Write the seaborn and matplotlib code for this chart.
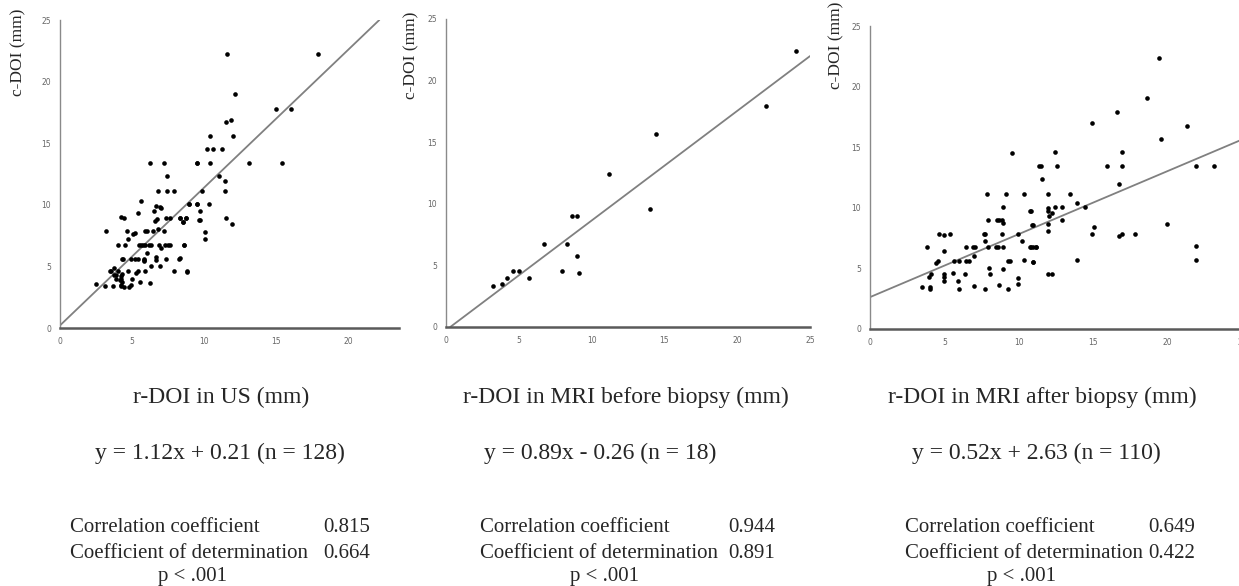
import matplotlib
matplotlib.use("Agg")
import matplotlib.pyplot as plt
import seaborn as sns

# ---- data ----
# panel 1: r-DOI in US vs c-DOI
us_x = [6.23, 7.2, 9.5, 7.39, 6.81, 7.39, 7.9, 5.63, 8.91, 9.51, 6.63, 6.93, 7.02, 6.51, 5.4,
        4.2, 4.43, 6.7, 6.6, 7.32, 7.64, 8.31, 8.7, 8.5, 9.65, 6.79, 3.21, 4.62, 5.91, 6.05,
        6.42, 7.2, 4.73, 5.08, 5.17, 4.0, 4.5, 5.49, 5.59, 5.77, 5.91, 6.2, 6.3, 6.88, 7.29,
        7.48, 7.66, 8.61, 7.02, 6.02, 4.29, 4.39, 4.94, 5.19, 5.4, 5.8, 5.84, 5.82, 6.65, 6.65,
        7.32, 8.22, 6.32, 3.72, 3.44, 3.55, 4.04, 4.69, 5.4, 5.91, 7.92, 8.8, 3.76, 3.85, 4.21,
        4.32, 4.21, 3.88, 5.01, 4.19, 4.32, 5.52, 6.21, 2.47, 3.12, 3.65, 4.2, 4.45, 4.8, 4.22,
        11.61, 17.89, 12.1, 15.0, 16.0, 11.54, 11.82, 10.41, 12.0, 10.2, 10.62, 11.22, 9.51, 10.41,
        13.09, 15.4, 11.01, 11.43, 11.43, 9.81, 8.91, 9.51, 10.32, 9.72, 8.31, 8.54, 8.73, 9.72,
        11.52, 11.91, 10.02, 10.02, 8.61, 8.82, 8.31, 5.3, 6.9, 4.9]
us_y = [13.37, 13.37, 13.37, 12.34, 11.12, 11.12, 11.12, 10.33, 10.04, 10.04, 9.9, 9.8, 9.7, 9.52, 9.33,
        9.03, 8.93, 8.82, 8.68, 8.96, 8.96, 8.96, 8.96, 8.63, 8.76, 8.06, 7.85, 7.85, 7.85, 7.85,
        7.85, 7.85, 7.22, 7.6, 7.7, 6.71, 6.71, 6.71, 6.71, 6.71, 6.71, 6.71, 6.71, 6.71, 6.71,
        6.71, 6.71, 6.71, 6.47, 6.09, 5.63, 5.63, 5.63, 5.63, 5.63, 5.63, 5.5, 5.42, 5.74, 5.5,
        5.63, 5.63, 5.06, 4.9, 4.63, 4.63, 4.63, 4.6, 4.6, 4.6, 4.6, 4.6, 4.3, 4.3, 4.24,
        4.4, 4.0, 3.95, 3.95, 3.9, 3.76, 3.71, 3.65, 3.54, 3.41, 3.41, 3.41, 3.36, 3.36, 3.5,
        22.27, 22.27, 18.97, 17.8, 17.8, 16.7, 16.88, 15.61, 15.61, 14.5, 14.5, 14.5, 13.39, 13.39,
        13.39, 13.39, 12.34, 11.9, 11.12, 11.12, 10.04, 10.04, 10.04, 9.52, 8.93, 8.63, 8.93, 8.74,
        8.93, 8.44, 7.82, 7.22, 6.71, 4.55, 5.68, 4.45, 5.0, 3.5]

# panel 2: r-DOI in MRI before biopsy vs c-DOI
pre_x = [3.2, 3.82, 4.2, 4.62, 5.0, 5.7, 6.71, 8.0, 8.31, 8.63, 9.02, 9.02, 9.13, 11.2,
         14.42, 14.0, 22.0, 24.04]
pre_y = [3.35, 3.46, 3.97, 4.57, 4.57, 3.97, 6.76, 4.57, 6.76, 8.98, 8.98, 5.76, 4.36, 12.4,
         15.69, 9.55, 17.9, 22.4]

# panel 3: r-DOI in MRI after biopsy vs c-DOI
post_x = [9.53, 7.85, 9.15, 10.33, 11.39, 8.94, 10.83, 8.52, 8.7, 8.9, 8.94, 7.96, 10.92,
          4.66, 5.0, 5.38, 7.69, 7.76, 8.88, 9.97, 10.24, 7.76, 3.86, 6.46, 6.91, 7.08,
          7.94, 8.45, 8.59, 8.94, 10.83, 11.16, 5.0, 6.97, 4.55, 4.46, 5.67, 5.97, 6.46, 6.68,
          9.28, 9.39, 10.36, 10.94, 4.08, 3.97, 4.98, 4.98, 5.56, 6.37, 8.05, 8.0, 8.94, 4.98,
          5.94, 9.95, 9.95, 3.47, 4.06, 4.06, 5.97, 6.97, 7.76, 8.65, 9.26,
          19.43, 18.63, 16.63, 14.93, 21.32, 19.53, 12.46, 16.95, 11.48, 12.55, 15.96, 16.95,
          21.92, 23.11, 11.54, 16.75, 11.95, 13.45, 13.94, 14.44, 11.95, 11.95, 12.26, 12.04,
          12.44, 12.93, 10.76, 10.94, 11.95, 12.93, 11.95, 14.93, 15.04, 16.72, 16.95, 17.84,
          19.93, 10.76, 10.94, 11.14, 21.92, 10.94, 13.94, 21.92, 11.95, 12.26]
post_y = [14.55, 11.17, 11.17, 11.17, 13.47, 10.07, 9.77, 8.97, 8.97, 8.97, 8.77, 8.97, 8.55,
          7.86, 7.78, 7.86, 7.86, 7.86, 7.86, 7.86, 7.26, 7.26, 6.77, 6.77, 6.77, 6.77,
          6.77, 6.77, 6.77, 6.77, 6.77, 6.77, 6.46, 6.05, 5.61, 5.42, 5.63, 5.63, 5.63, 5.63,
          5.63, 5.63, 5.7, 5.56, 4.56, 4.31, 4.56, 4.31, 4.63, 4.56, 4.56, 5.06, 4.99, 3.96,
          3.96, 4.18, 3.74, 3.47, 3.47, 3.33, 3.33, 3.55, 3.33, 3.63, 3.33,
          22.39, 19.09, 17.88, 16.97, 16.78, 15.68, 14.58, 14.58, 13.47, 13.47, 13.47, 13.47,
          13.47, 13.47, 12.38, 11.96, 11.17, 11.17, 10.37, 10.07, 9.96, 9.77, 9.57, 9.35,
          10.07, 10.07, 9.77, 8.55, 8.7, 8.97, 8.06, 7.86, 8.44, 7.65, 7.86, 7.86,
          8.66, 6.77, 6.77, 6.77, 6.85, 5.56, 5.67, 5.67, 4.54, 4.54]

slopes = [1.12, 0.89, 0.52]
intercepts = [0.21, -0.26, 2.63]
x_titles = ["r-DOI in US (mm)", "r-DOI in MRI before biopsy (mm)", "r-DOI in MRI after biopsy (mm)"]
equations = ["y = 1.12x + 0.21 (n = 128)", "y = 0.89x - 0.26 (n = 18)", "y = 0.52x + 2.63 (n = 110)"]
corr = ["0.815", "0.944", "0.649"]
determ = ["0.664", "0.891", "0.422"]
x_ticks = [[0, 5, 10, 15, 20], [0, 5, 10, 15, 20, 25], [0, 5, 10, 15, 20, 25]]
x_max = [23.5, 25, 25]

sns.set_style("white")
plt.rcParams["font.family"] = ["Liberation Serif", "DejaVu Serif"]

W, H = 1239, 586
fig = plt.figure(figsize=(W / 100, H / 100), dpi=100)

# axes boxes in pixels: left, bottom(y of 0), right, top(y of 25)
boxes = [(60, 328, 399, 20), (446, 327, 810, 19), (870, 329, 1242, 26)]
data = [(us_x, us_y), (pre_x, pre_y), (post_x, post_y)]

# text anchors (pixels)
ylab_x = [18, 411, 836]
ylab_y = [52, 55, 45]
title_cx = [221, 626, 1042]
eq_cx = [220, 600, 1036]
stat_left = [70, 480, 905]
val_left = [323, 728, 1148]
p_cx = [192, 605, 1022]

for i in range(3):
    l, b, r, t = boxes[i]
    ax = fig.add_axes([l / W, 1 - b / H, (r - l) / W, (b - t) / H])
    xs, ys = data[i]
    sns.scatterplot(x=xs, y=ys, ax=ax, color="black", s=11, linewidth=0, zorder=3)
    ax.axline((0, intercepts[i]), slope=slopes[i], color="#808080", lw=1.3, zorder=2)
    ax.set_xlim(0, x_max[i])
    ax.set_ylim(0, 25)
    ax.set_xticks(x_ticks[i])
    ax.set_yticks([0, 5, 10, 15, 20, 25])
    for lab in ax.get_xticklabels() + ax.get_yticklabels():
        lab.set_family("DejaVu Sans")
    ax.tick_params(axis="both", labelsize=5.5, colors="#666666", length=2.5, width=0.6,
                   direction="out", pad=4)
    for s in ["top", "right"]:
        ax.spines[s].set_visible(False)
    ax.spines["left"].set_color("#8a8a8a")
    ax.spines["left"].set_linewidth(1.0)
    ax.spines["bottom"].set_color("#5a5a5a")
    ax.spines["bottom"].set_linewidth(1.8)
    ax.set_xlabel("")
    ax.set_ylabel("")

    fig.text(ylab_x[i] / W, 1 - ylab_y[i] / H, "c-DOI (mm)", rotation=90,
             ha="center", va="center", fontsize=12.5)
    fig.text(title_cx[i] / W, 1 - 397 / H, x_titles[i], ha="center", va="center", fontsize=17)
    fig.text(eq_cx[i] / W, 1 - 453 / H, equations[i], ha="center", va="center", fontsize=17)
    fig.text(stat_left[i] / W, 1 - 528 / H, "Correlation coefficient", ha="left", va="center", fontsize=15)
    fig.text(val_left[i] / W, 1 - 528 / H, corr[i], ha="left", va="center", fontsize=15)
    fig.text(stat_left[i] / W, 1 - 553 / H, "Coefficient of determination", ha="left", va="center", fontsize=15)
    fig.text(val_left[i] / W, 1 - 553 / H, determ[i], ha="left", va="center", fontsize=15)
    fig.text(p_cx[i] / W, 1 - 576 / H, "p < .001", ha="center", va="center", fontsize=15)

fig.savefig("out.png", dpi=100)
